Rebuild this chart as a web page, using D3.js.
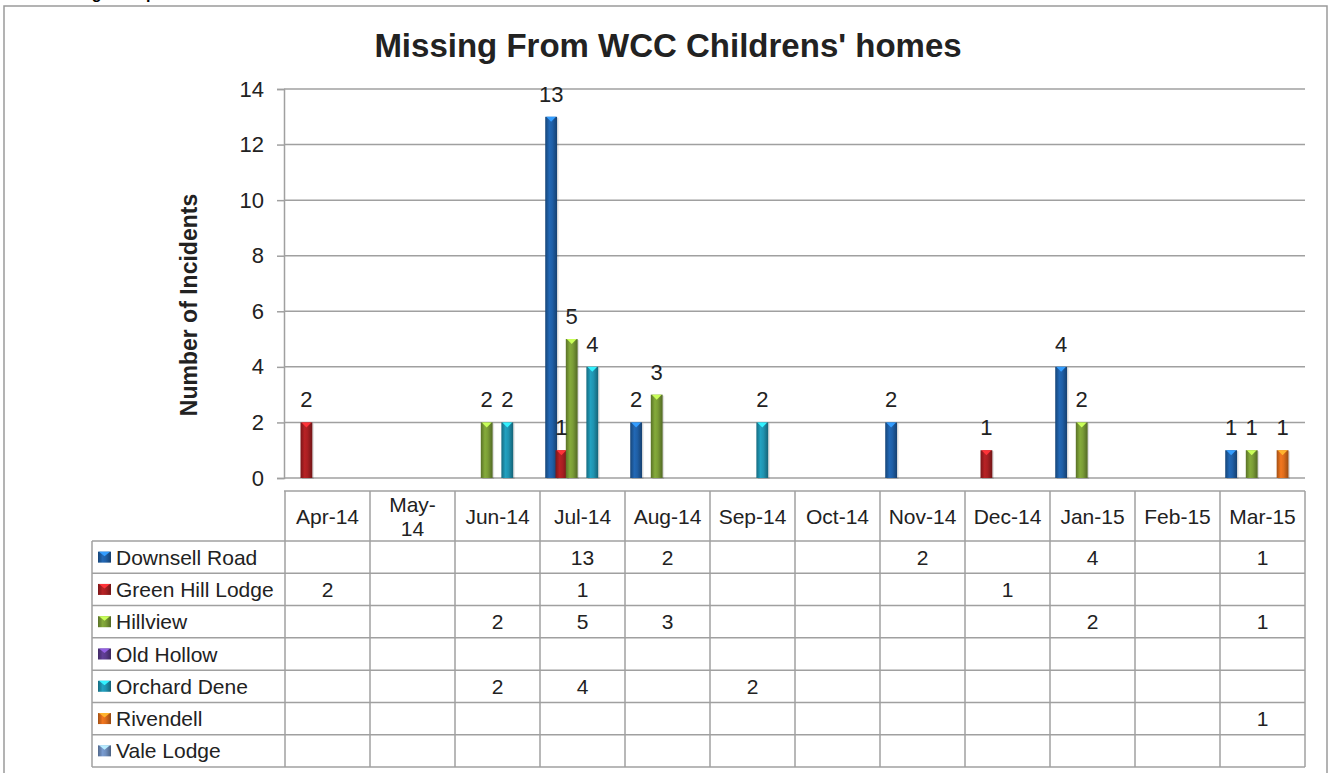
<!DOCTYPE html>
<html lang="en">
<head>
<meta charset="utf-8" />
<title>Missing From WCC Childrens' homes</title>
<script src="https://cdn.jsdelivr.net/npm/d3@7"></script>
<style>
  body { margin: 0; background: #fff; }
  svg { display: block; font-family: "Liberation Sans", Arial, sans-serif; }
</style>
</head>
<body>
<svg id="chart" width="1329" height="773"></svg>
<script>
// data
const months = ["Apr-14", "May-14", "Jun-14", "Jul-14", "Aug-14", "Sep-14", "Oct-14", "Nov-14", "Dec-14", "Jan-15", "Feb-15", "Mar-15"];
const homes = ["Downsell Road", "Green Hill Lodge", "Hillview", "Old Hollow", "Orchard Dene", "Rivendell", "Vale Lodge"];
const downsellRoad   = [null, null, null, 13, 2, null, null, 2, null, 4, null, 1];
const greenHillLodge = [2, null, null, 1, null, null, null, null, 1, null, null, null];
const hillview       = [null, null, 2, 5, 3, null, null, null, null, 2, null, 1];
const oldHollow      = [null, null, null, null, null, null, null, null, null, null, null, null];
const orchardDene    = [null, null, 2, 4, null, 2, null, null, null, null, null, null];
const rivendell      = [null, null, null, null, null, null, null, null, null, null, null, 1];
const valeLodge      = [null, null, null, null, null, null, null, null, null, null, null, null];
const yTicks = [0, 2, 4, 6, 8, 10, 12, 14];

const seriesValues = [downsellRoad, greenHillLodge, hillview, oldHollow, orchardDene, rivendell, valeLodge];
const colors = ["#1f5fa6", "#a81f22", "#7a9c36", "#5a3a8a", "#1f93b0", "#de6d1c", "#6f8fbf"];

const svg = d3.select("#chart");
const defs = svg.append("defs");

// cylinder-ish gradient per series
colors.forEach((c, i) => {
  const g = defs.append("linearGradient").attr("id", "grad" + i)
    .attr("x1", "0%").attr("x2", "100%").attr("y1", "0%").attr("y2", "0%");
  const base = d3.color(c);
  g.append("stop").attr("offset", "0%").attr("stop-color", base.darker(0.9));
  g.append("stop").attr("offset", "35%").attr("stop-color", base.brighter(0.25));
  g.append("stop").attr("offset", "60%").attr("stop-color", base);
  g.append("stop").attr("offset", "100%").attr("stop-color", base.darker(1.1));
});

// outer frame and the caption above it (cut off by the page edge, as in the source)
svg.append("text").attr("x", 42).attr("y", -1)
  .attr("font-size", 16).attr("font-weight", "bold").text("Missing from placement");
svg.append("rect").attr("x", 4).attr("y", 6).attr("width", 1323).attr("height", 780)
  .attr("fill", "none").attr("stroke", "#9a9a9a").attr("stroke-width", 1.5);

// title
svg.append("text").attr("x", 668).attr("y", 57).attr("text-anchor", "middle")
  .attr("font-size", 33).attr("font-weight", "bold").attr("fill", "#222")
  .text("Missing From WCC Childrens' homes");

const x0 = d3.scaleBand().domain(months).range([285, 1305]);
const x1 = d3.scaleBand().domain(homes).range([6, 78]);
const y = d3.scaleLinear().domain([0, 14]).range([478, 89]);

// gridlines
svg.append("g").selectAll("line").data(yTicks).join("line")
  .attr("x1", 284).attr("x2", 1305)
  .attr("y1", d => y(d)).attr("y2", d => y(d))
  .attr("stroke", "#a0a0a0").attr("stroke-width", 1.5);

// y axis
const yAxis = svg.append("g").attr("transform", "translate(284,0)")
  .call(d3.axisLeft(y).tickValues(yTicks).tickSize(7).tickPadding(13));
yAxis.select(".domain").attr("stroke", "#a0a0a0").attr("stroke-width", 1.5);
yAxis.selectAll(".tick line").attr("stroke", "#a0a0a0").attr("stroke-width", 1.5);
yAxis.selectAll(".tick text").attr("font-size", 22).attr("fill", "#222")
  .attr("font-family", "Liberation Sans, Arial, sans-serif");

svg.append("text")
  .attr("transform", "translate(197,305) rotate(-90)")
  .attr("text-anchor", "middle").attr("font-size", 23).attr("font-weight", "bold").attr("fill", "#222")
  .text("Number of Incidents");

// bars
const barData = [];
homes.forEach((h, i) => {
  seriesValues[i].forEach((v, j) => {
    if (v != null) barData.push({ home: h, idx: i, month: months[j], value: v });
  });
});
const bw = x1.bandwidth() * 1.15;
const cx = d => x0(d.month) + x1(d.home) + x1.bandwidth() / 2;

const bars = svg.append("g");
bars.selectAll("rect.shadow").data(barData).join("rect")
  .attr("class", "shadow")
  .attr("x", d => cx(d) - bw / 2 + 1.5).attr("y", d => y(d.value) + 1)
  .attr("width", bw).attr("height", d => y(0) - y(d.value))
  .attr("fill", "#000").attr("opacity", 0.12);
bars.selectAll("rect.bar").data(barData).join("rect")
  .attr("class", "bar")
  .attr("x", d => cx(d) - bw / 2).attr("y", d => y(d.value))
  .attr("width", bw).attr("height", d => y(0) - y(d.value))
  .attr("fill", d => `url(#grad${d.idx})`);
bars.selectAll("path.cap").data(barData).join("path")
  .attr("class", "cap")
  .attr("d", d => {
    const t = y(d.value), c = cx(d);
    return `M${c - bw / 2 + 1},${t} L${c + bw / 2 - 1},${t} L${c},${t + 5} Z`;
  })
  .attr("fill", d => d3.color(colors[d.idx]).brighter(1.4));

// data labels
svg.append("g").selectAll("text").data(barData).join("text")
  .attr("x", d => cx(d)).attr("y", d => y(d.value) - 15)
  .attr("text-anchor", "middle").attr("font-size", 22).attr("fill", "#222")
  .text(d => d.value);

// data table
const headTop = 491, headBot = 541, rowH = (767 - 541) / homes.length;
const legLeft = 92, tableRight = 1305;
const tbl = svg.append("g").attr("stroke", "#a0a0a0").attr("stroke-width", 1.5);
tbl.append("line").attr("x1", 284).attr("x2", tableRight).attr("y1", headTop).attr("y2", headTop);
d3.range(homes.length + 1).forEach(i => {
  tbl.append("line").attr("x1", legLeft).attr("x2", tableRight)
    .attr("y1", headBot + i * rowH).attr("y2", headBot + i * rowH);
});
tbl.append("line").attr("x1", legLeft).attr("x2", legLeft).attr("y1", headBot).attr("y2", 767);
months.concat(["end"]).forEach(m => {
  const xx = m === "end" ? tableRight : x0(m);
  tbl.append("line").attr("x1", xx).attr("x2", xx).attr("y1", headTop).attr("y2", 767);
});

// header labels
const head = svg.append("g").attr("font-size", 21).attr("fill", "#222").attr("text-anchor", "middle");
months.forEach(m => {
  const mx = x0(m) + x0.bandwidth() / 2;
  if (m === "May-14") {
    head.append("text").attr("x", mx).attr("y", 512).text("May-");
    head.append("text").attr("x", mx).attr("y", 536).text("14");
  } else {
    head.append("text").attr("x", mx).attr("y", 524).text(m);
  }
});

// legend column + cell values
const body = svg.append("g").attr("font-size", 21).attr("fill", "#222");
homes.forEach((h, i) => {
  const ry = headBot + i * rowH, mid = ry + rowH / 2;
  body.append("rect").attr("x", 98).attr("y", mid - 5.5)
    .attr("width", 13).attr("height", 11).attr("fill", `url(#grad${i})`);
  body.append("path")
    .attr("d", `M99,${mid - 5.5} L110,${mid - 5.5} L104.5,${mid - 1} Z`)
    .attr("fill", d3.color(colors[i]).brighter(1.4));
  body.append("text").attr("x", 116).attr("y", mid + 7.5).text(h);
  seriesValues[i].forEach((v, j) => {
    if (v == null) return;
    body.append("text").attr("x", x0(months[j]) + x0.bandwidth() / 2).attr("y", mid + 7.5)
      .attr("text-anchor", "middle").text(v);
  });
});
</script>
</body>
</html>
